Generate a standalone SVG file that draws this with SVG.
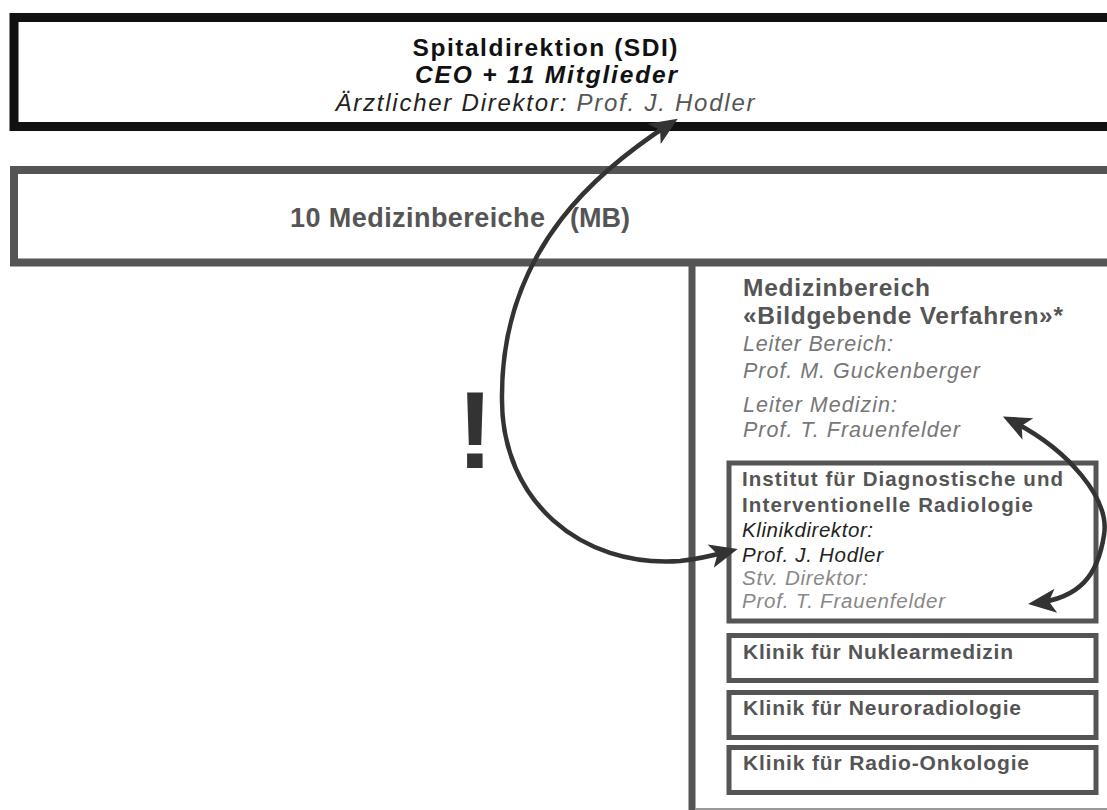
<svg xmlns="http://www.w3.org/2000/svg" width="1107" height="810" viewBox="0 0 1107 810">
<style>
  .t { font-family: "Liberation Sans", Arial, Helvetica, sans-serif; }
  .b { font-weight: bold; }
  .i { font-style: italic; }
  .box { fill: #fff; stroke: #555; stroke-width: 5; }
  .conn { fill: none; stroke: #333; stroke-width: 4.5; }
</style>
<defs>
  <marker id="ah" markerUnits="userSpaceOnUse" markerWidth="40" markerHeight="40" refX="0" refY="0" orient="auto-start-reverse" overflow="visible">
    <path d="M8,0 L-20,-12 L-13,0 L-20,12 Z" fill="#333"/>
  </marker>
</defs>
<rect width="1107" height="810" fill="#fff"/>

<g id="node-sdi">
  <rect x="14" y="17.5" width="1200" height="109" fill="#fff" stroke="#111" stroke-width="9"/>
  <text class="t b" x="545" y="56" font-size="24.5" fill="#111" text-anchor="middle" textLength="265">Spitaldirektion (SDI)</text>
  <text class="t b i" x="546" y="83" font-size="24.5" fill="#111" text-anchor="middle" textLength="262">CEO + 11 Mitglieder</text>
  <text class="t i" x="545" y="111" font-size="24" fill="#222" text-anchor="middle" textLength="419">Ärztlicher Direktor: <tspan fill="#555">Prof. J. Hodler</tspan></text>
</g>

<g id="node-mb">
  <rect x="14" y="170" width="1200" height="92.5" fill="#fff" stroke="#555" stroke-width="8"/>
  <text class="t b" x="290" y="227" font-size="27" fill="#555" textLength="255">10 Medizinbereiche</text>
  <text class="t b" x="570" y="227" font-size="27" fill="#555" textLength="60">(MB)</text>
</g>

<g id="node-bildgebende">
  <line x1="692" y1="262" x2="692" y2="815" stroke="#555" stroke-width="7"/>
  <line x1="695" y1="809" x2="1107" y2="809" stroke="#999" stroke-width="2"/>
  <text class="t b" x="743" y="296" font-size="24.5" fill="#555" textLength="187">Medizinbereich</text>
  <text class="t b" x="743" y="324" font-size="24.5" fill="#555" textLength="320">«Bildgebende Verfahren»*</text>
  <text class="t i" x="743" y="351" font-size="21.5" fill="#777" textLength="150">Leiter Bereich:</text>
  <text class="t i" x="743" y="378" font-size="21.5" fill="#777" textLength="237">Prof. M. Guckenberger</text>
  <text class="t i" x="743" y="412" font-size="21.5" fill="#777" textLength="154">Leiter Medizin:</text>
  <text class="t i" x="743" y="437" font-size="21.5" fill="#777" textLength="217">Prof. T. Frauenfelder</text>
</g>

<g id="node-institut">
  <rect class="box" x="729" y="463" width="367" height="158"/>
  <text class="t b" x="742" y="486" font-size="20.5" fill="#555" textLength="321">Institut für Diagnostische und</text>
  <text class="t b" x="742" y="511.5" font-size="20.5" fill="#555" textLength="291">Interventionelle Radiologie</text>
  <text class="t i" x="742" y="537" font-size="20.5" fill="#222" textLength="131">Klinikdirektor:</text>
  <text class="t i" x="742" y="561.5" font-size="20.5" fill="#222" textLength="141">Prof. J. Hodler</text>
  <text class="t i" x="742" y="585" font-size="20.5" fill="#888" textLength="126">Stv. Direktor:</text>
  <text class="t i" x="742" y="608" font-size="20.5" fill="#888" textLength="203">Prof. T. Frauenfelder</text>
</g>

<g id="node-nuklear">
  <rect class="box" x="729" y="635.5" width="367" height="45"/>
  <text class="t b" x="743" y="659" font-size="21" fill="#555" textLength="270">Klinik für Nuklearmedizin</text>
</g>

<g id="node-neuro">
  <rect class="box" x="729" y="692.5" width="367" height="45"/>
  <text class="t b" x="743" y="715" font-size="21" fill="#555" textLength="278">Klinik für Neuroradiologie</text>
</g>

<g id="node-radioonko">
  <rect class="box" x="729" y="747.5" width="367" height="45"/>
  <text class="t b" x="743" y="770" font-size="21" fill="#555" textLength="286">Klinik für Radio-Onkologie</text>
</g>

<g id="exclamation">
  <text class="t b" x="475" y="468" font-size="110" fill="#333" text-anchor="middle">!</text>
</g>

<g id="connectors">
  <path class="conn" d="M671,123 C606,165 500,245 502,400 C502,500 580,568 680,561 C700,559 715,555 730,551" marker-start="url(#ah)" marker-end="url(#ah)"/>
  <path class="conn" d="M1010,420 C1070,450 1110,500 1104,535 C1098,575 1080,598 1036,603" marker-start="url(#ah)" marker-end="url(#ah)"/>
</g>
</svg>
